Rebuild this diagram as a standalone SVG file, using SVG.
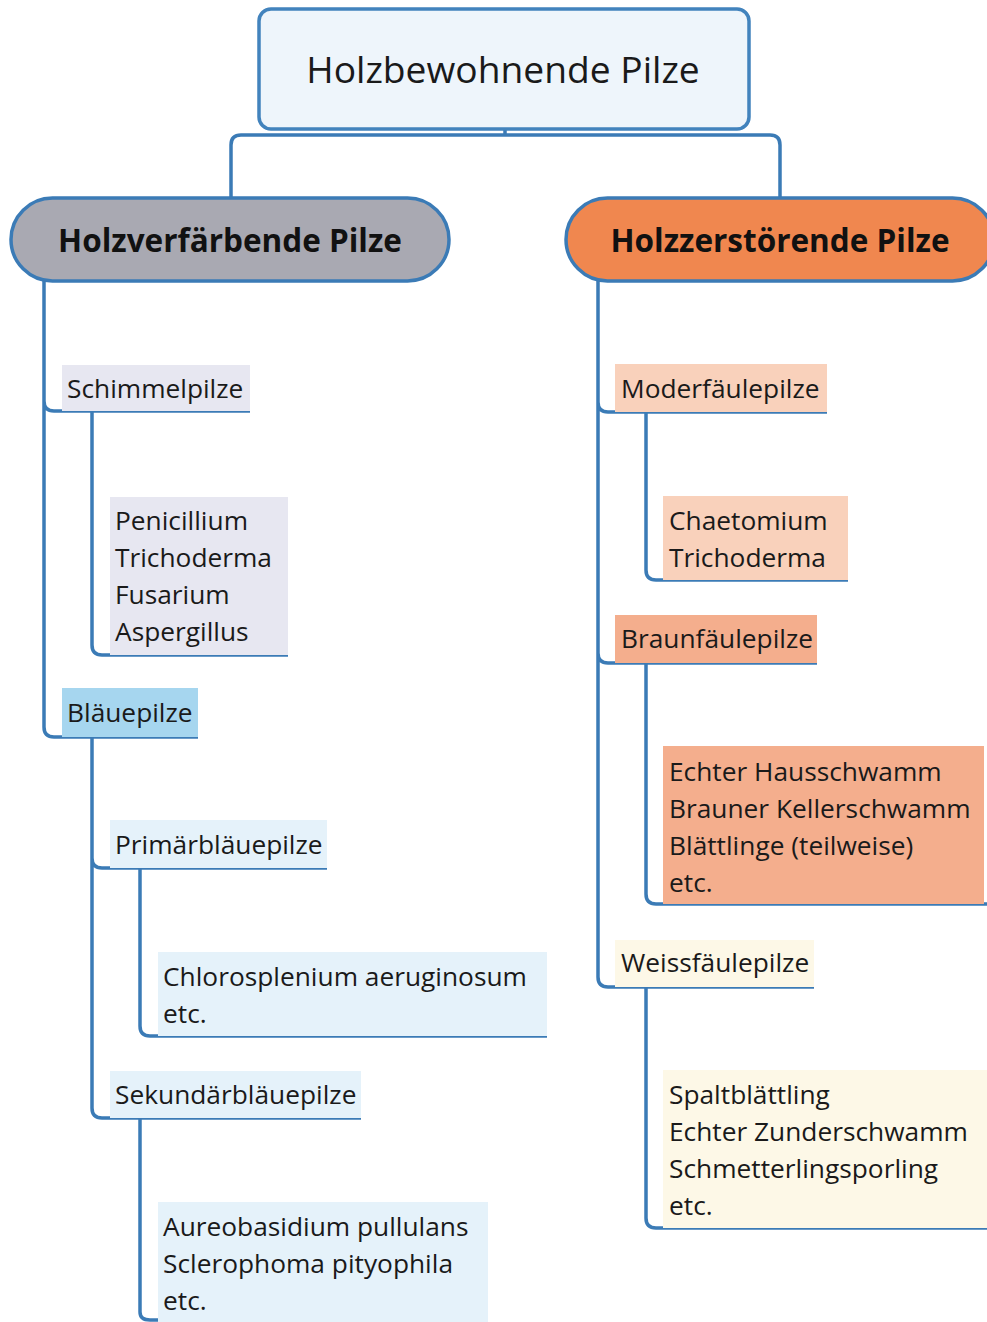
<svg xmlns="http://www.w3.org/2000/svg" width="987" height="1322" viewBox="0 0 987 1322">
<style>
text{font-family:"Open Sans","Noto Sans","DejaVu Sans",sans-serif;fill:#1a1a1a}
.t{font-size:26.3px}
.h{font-size:31.5px;font-weight:700;fill:#111}
.c{fill:none;stroke:#3b7bb6;stroke-width:3.5;stroke-linejoin:round;stroke-linecap:butt}
.grey{fill:#e7e7f1}
.blue{fill:#a6d6ef}
.lblue{fill:#e5f2fa}
.peach{fill:#f9d1bb}
.brown{fill:#f4ae8d}
.cream{fill:#fdf8e7}
</style>
<rect width="987" height="1322" fill="#ffffff"/>
<g id="connectors">
<path class="c" d="M505,129 V135 M231,197 V145 Q231,135 241,135 H770 Q780,135 780,145 V197"/>
<path class="c" d="M44,281 V401 Q44,411 54,411 H250 M44,401 V727 Q44,737 54,737 H198"/>
<path class="c" d="M92,412 V645 Q92,655 102,655 H288"/>
<path class="c" d="M92,737 V858 Q92,868 102,868 H327 M92,858 V1108 Q92,1118 102,1118 H361"/>
<path class="c" d="M140,868 V1026 Q140,1036 150,1036 H547"/>
<path class="c" d="M140,1118 V1312 Q140,1320 150,1320 H488"/>
<path class="c" d="M598,281 V402 Q598,412 608,412 H827 M598,402 V653 Q598,663 608,663 H817 M598,653 V977 Q598,987 608,987 H814"/>
<path class="c" d="M646,412 V570 Q646,580 656,580 H848"/>
<path class="c" d="M646,663 V894 Q646,904 656,904 H987"/>
<path class="c" d="M646,987 V1218 Q646,1228 656,1228 H987"/>
</g>
<g id="root">
<rect x="259" y="9" width="490" height="120" rx="12" fill="#eef5fb" stroke="#4283bd" stroke-width="3.5"/>
<text x="503" y="83" font-size="37.2" text-anchor="middle">Holzbewohnende Pilze</text>
</g>
<g id="holzverfaerbende">
<rect x="11" y="198" width="438" height="83" rx="41.5" fill="#a9a9b2" stroke="#3b7bb6" stroke-width="3.5"/>
<text class="h" x="230" y="252" text-anchor="middle">Holzverfärbende Pilze</text>
</g>
<g id="holzzerstoerende">
<rect x="566" y="198" width="428" height="83" rx="41.5" fill="#f0874f" stroke="#3b7bb6" stroke-width="3.5"/>
<text class="h" x="780" y="252" text-anchor="middle">Holzzerstörende Pilze</text>
</g>
<g id="schimmelpilze">
<rect class="grey" x="62" y="365" width="188" height="46"/>
<text class="t" x="67" y="398">Schimmelpilze</text>
</g>
<g id="schimmel-arten">
<rect class="grey" x="110" y="497" width="178" height="158"/>
<text class="t" x="115" y="530">Penicillium</text>
<text class="t" x="115" y="567">Trichoderma</text>
<text class="t" x="115" y="604">Fusarium</text>
<text class="t" x="115" y="641">Aspergillus</text>
</g>
<g id="blaeuepilze">
<rect class="blue" x="62" y="688" width="136" height="49"/>
<text class="t" x="67" y="722">Bläuepilze</text>
</g>
<g id="primaerblaeuepilze">
<rect class="lblue" x="110" y="820" width="217" height="48"/>
<text class="t" x="115" y="854">Primärbläuepilze</text>
</g>
<g id="primaer-arten">
<rect class="lblue" x="158" y="952" width="389" height="84"/>
<text class="t" x="163" y="986">Chlorosplenium aeruginosum</text>
<text class="t" x="163" y="1023">etc.</text>
</g>
<g id="sekundaerblaeuepilze">
<rect class="lblue" x="110" y="1071" width="251" height="47"/>
<text class="t" x="115" y="1104">Sekundärbläuepilze</text>
</g>
<g id="sekundaer-arten">
<rect class="lblue" x="158" y="1202" width="330" height="120"/>
<text class="t" x="163" y="1236">Aureobasidium pullulans</text>
<text class="t" x="163" y="1273">Sclerophoma pityophila</text>
<text class="t" x="163" y="1310">etc.</text>
</g>
<g id="moderfaeulepilze">
<rect class="peach" x="615" y="364" width="212" height="48"/>
<text class="t" x="621" y="398">Moderfäulepilze</text>
</g>
<g id="moder-arten">
<rect class="peach" x="663" y="496" width="185" height="84"/>
<text class="t" x="669" y="530">Chaetomium</text>
<text class="t" x="669" y="567">Trichoderma</text>
</g>
<g id="braunfaeulepilze">
<rect class="brown" x="615" y="615" width="202" height="48"/>
<text class="t" x="621" y="648">Braunfäulepilze</text>
</g>
<g id="braun-arten">
<rect class="brown" x="663" y="746" width="321" height="158"/>
<text class="t" x="669" y="781">Echter Hausschwamm</text>
<text class="t" x="669" y="818">Brauner Kellerschwamm</text>
<text class="t" x="669" y="855">Blättlinge (teilweise)</text>
<text class="t" x="669" y="892">etc.</text>
</g>
<g id="weissfaeulepilze">
<rect class="cream" x="615" y="940" width="199" height="47"/>
<text class="t" x="621" y="972">Weissfäulepilze</text>
</g>
<g id="weiss-arten">
<rect class="cream" x="663" y="1070" width="324" height="158"/>
<text class="t" x="669" y="1104">Spaltblättling</text>
<text class="t" x="669" y="1141">Echter Zunderschwamm</text>
<text class="t" x="669" y="1178">Schmetterlingsporling</text>
<text class="t" x="669" y="1215">etc.</text>
</g>
</svg>
